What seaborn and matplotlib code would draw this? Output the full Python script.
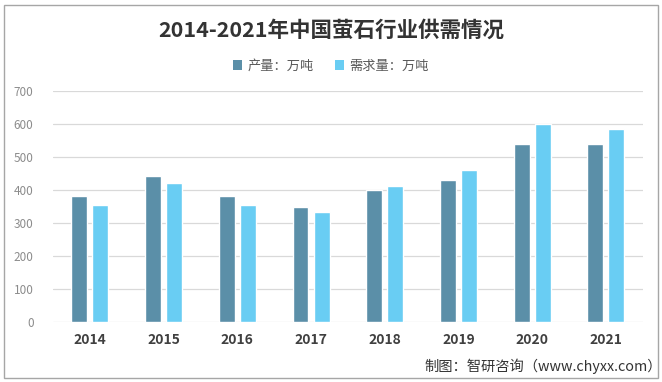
import matplotlib
matplotlib.use("Agg")
import matplotlib.pyplot as plt
import seaborn as sns
import pandas as pd
from matplotlib.patches import Rectangle, Patch

years = ["2014", "2015", "2016", "2017", "2018", "2019", "2020", "2021"]
production = [380, 441, 380, 349, 399, 431, 539, 540]
demand = [353, 421, 353, 332, 412, 460, 600, 585]
series_names = ["产量：万吨", "需求量：万吨"]
y_ticks = [0, 100, 200, 300, 400, 500, 600, 700]

df = pd.DataFrame({
    "year": years * 2,
    "value": production + demand,
    "series": [series_names[0]] * len(years) + [series_names[1]] * len(years),
})

sns.set_theme(style="white")
plt.rcParams["font.family"] = ["Noto Sans CJK SC", "DejaVu Sans"]

fig = plt.figure(figsize=(6.62, 3.82), dpi=100)
ax = fig.add_axes([0.080, 0.158, 0.891, 0.604])

palette = {series_names[0]: "#5B8FA8", series_names[1]: "#69CDF3"}
sns.barplot(data=df, x="year", y="value", hue="series", palette=palette,
            width=0.57, gap=0.24, ax=ax, saturation=1, legend=False)

ax.set_ylim(0, 700)
ax.set_yticks(y_ticks)
ax.yaxis.grid(True, color="#D9D9D9", linewidth=0.9)
ax.set_axisbelow(True)
for s in ax.spines.values():
    s.set_visible(False)
ax.set_xlabel("")
ax.set_ylabel("")
ax.tick_params(axis="y", length=0, labelsize=8.5, labelcolor="#8C8C8C", pad=14)
ax.tick_params(axis="x", length=0, labelsize=10, labelcolor="#404040", pad=8)
for lbl in ax.get_xticklabels():
    lbl.set_fontweight("bold")
ax.set_yticklabels([str(v) for v in y_ticks])

fig.text(0.5, 0.922, "2014-2021年中国萤石行业供需情况", ha="center", va="center",
         fontsize=15.5, fontweight="bold", color="#333333")

handles = [Patch(facecolor=palette[n], edgecolor="none") for n in series_names]
fig.legend(handles, series_names, loc="center", bbox_to_anchor=(0.5, 0.827),
           ncol=2, frameon=False, fontsize=9.5, handlelength=0.7, handleheight=0.7,
           handletextpad=0.4, columnspacing=1.6, labelcolor="#595959")

fig.text(0.641, 0.042, "制图：智研咨询（www.chyxx.com）", ha="left", va="center",
         fontsize=10.3, color="#333333")

fig.patches.append(Rectangle((0.006, 0.01), 0.988, 0.978, transform=fig.transFigure,
                             fill=False, edgecolor="#A6A6A6", linewidth=1.0))

fig.savefig("out.png", dpi=100)
